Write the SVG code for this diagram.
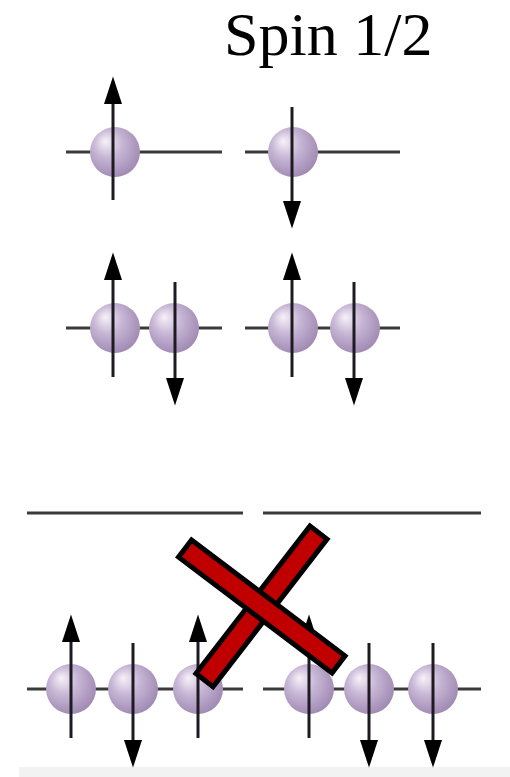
<svg xmlns="http://www.w3.org/2000/svg" width="510" height="777" viewBox="0 0 510 777">
  <style>
    .bond { stroke: #3a3a3a; stroke-width: 3; fill: none; }
    .ball { fill: url(#ballGrad); }
    .spin { stroke: #1e1a22; stroke-width: 3; fill: none; marker-end: url(#head); }
    .title { font-family: "Liberation Serif", "Times New Roman", serif; font-size: 62px; fill: #000; }
    .bar { fill: #c00000; stroke: #000; stroke-width: 5; }
  </style>
  <defs>
    <radialGradient id="ballGrad" cx="0.42" cy="0.4" r="0.62" fx="0.3" fy="0.28">
      <stop offset="0" stop-color="#f6f2f8"/>
      <stop offset="0.45" stop-color="#c8b7d6"/>
      <stop offset="1" stop-color="#a08ab3"/>
    </radialGradient>
    <marker id="head" markerUnits="userSpaceOnUse" markerWidth="28" markerHeight="18" viewBox="0 0 26 17" refX="16" refY="8.5" orient="auto">
      <path d="M0,0 L26,8.5 L0,17 z" fill="#000"/>
    </marker>
  </defs>

  <rect x="19" y="767" width="491" height="10" fill="#f2f2f2"/>

  <g id="title">
    <text class="title" x="224" y="55">Spin 1/2</text>
  </g>

  <g id="connectors">
    <line class="bond" x1="66" y1="152" x2="222" y2="152"/>
    <line class="bond" x1="245" y1="152" x2="400" y2="152"/>
    <line class="bond" x1="66" y1="328" x2="222" y2="328"/>
    <line class="bond" x1="245" y1="328" x2="400" y2="328"/>
    <line class="bond" x1="27" y1="513" x2="243" y2="513"/>
    <line class="bond" x1="263" y1="513" x2="481" y2="513"/>
    <line class="bond" x1="27" y1="689" x2="243" y2="689"/>
    <line class="bond" x1="263" y1="689" x2="481" y2="689"/>
  </g>

  <g id="r1-left">
    <circle class="ball" cx="115" cy="152" r="25"/>
    <line class="spin" x1="113" y1="200" x2="113" y2="87"/>
  </g>
  <g id="r1-right">
    <circle class="ball" cx="293" cy="152" r="25"/>
    <line class="spin" x1="292" y1="107" x2="292" y2="218"/>
  </g>

  <g id="r2-left-a">
    <circle class="ball" cx="115" cy="328" r="25"/>
    <line class="spin" x1="113" y1="377" x2="113" y2="263"/>
  </g>
  <g id="r2-left-b">
    <circle class="ball" cx="174" cy="328" r="25"/>
    <line class="spin" x1="175" y1="282" x2="175" y2="395"/>
  </g>
  <g id="r2-right-a">
    <circle class="ball" cx="293" cy="328" r="25"/>
    <line class="spin" x1="292" y1="377" x2="292" y2="263"/>
  </g>
  <g id="r2-right-b">
    <circle class="ball" cx="355" cy="328" r="25"/>
    <line class="spin" x1="354" y1="282" x2="354" y2="395"/>
  </g>

  <g id="r3-left-a">
    <circle class="ball" cx="71" cy="689" r="25"/>
    <line class="spin" x1="71" y1="738" x2="71" y2="625"/>
  </g>
  <g id="r3-left-b">
    <circle class="ball" cx="133" cy="689" r="25"/>
    <line class="spin" x1="133" y1="643" x2="133" y2="757"/>
  </g>
  <g id="r3-left-c">
    <circle class="ball" cx="198" cy="689" r="25"/>
    <line class="spin" x1="198" y1="738" x2="198" y2="625"/>
  </g>
  <g id="r3-right-a">
    <circle class="ball" cx="309" cy="689" r="25"/>
    <line class="spin" x1="309" y1="738" x2="309" y2="625"/>
  </g>
  <g id="r3-right-b">
    <circle class="ball" cx="369" cy="689" r="25"/>
    <line class="spin" x1="369" y1="643" x2="369" y2="757"/>
  </g>
  <g id="r3-right-c">
    <circle class="ball" cx="433" cy="689" r="25"/>
    <line class="spin" x1="433" y1="643" x2="433" y2="757"/>
  </g>

  <g id="cross">
    <rect class="bar" x="-93.2" y="-10.8" width="186.4" height="21.6" transform="translate(261.5 606.3) rotate(-52.3)"/>
    <rect class="bar" x="-96.2" y="-10.8" width="192.4" height="21.6" transform="translate(261.8 606.5) rotate(37.07)"/>
  </g>
</svg>
